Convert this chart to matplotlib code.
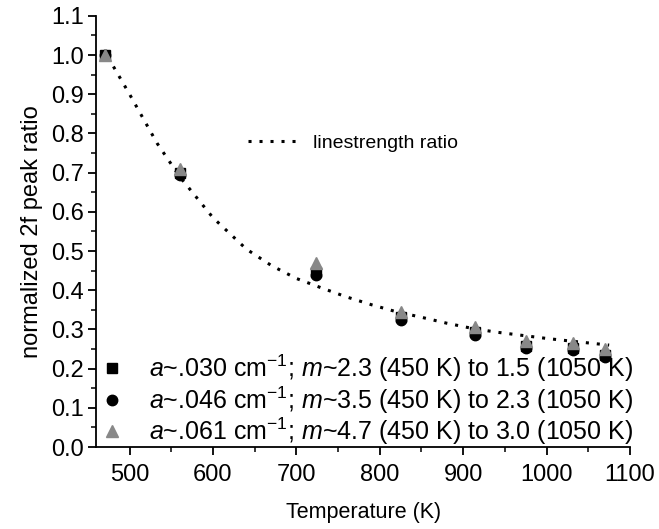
import numpy as np
import matplotlib
matplotlib.use("Agg")
import matplotlib.pyplot as plt

plt.rcParams['font.family'] = ['Liberation Sans', 'DejaVu Sans']
plt.rcParams['mathtext.fontset'] = 'custom'
plt.rcParams['mathtext.rm'] = 'Liberation Sans'
plt.rcParams['mathtext.it'] = 'Liberation Sans:italic'

# measured temperatures (K) and normalized peak ratios
temps = [471, 560, 723, 826, 914, 975, 1032, 1070]
ratio_a030 = [1.00, 0.700, 0.447, 0.332, 0.293, 0.258, 0.253, 0.235]
ratio_a046 = [1.00, 0.695, 0.440, 0.324, 0.286, 0.253, 0.247, 0.230]
ratio_a061 = [1.00, 0.710, 0.469, 0.344, 0.307, 0.271, 0.266, 0.250]

# linestrength ratio curve
line_t = [474, 500, 533, 560, 600, 640, 670, 700, 730, 760, 790, 820, 850, 880,
          910, 940, 970, 1000, 1030, 1075]
line_r = [0.995, 0.90, 0.775, 0.69, 0.585, 0.505, 0.463, 0.430, 0.406, 0.383,
          0.363, 0.345, 0.331, 0.316, 0.303, 0.293, 0.285, 0.277, 0.270, 0.260]

labels = [r"$a$~.030 cm$^{-1}$; $m$~2.3 (450 K) to 1.5 (1050 K)",
          r"$a$~.046 cm$^{-1}$; $m$~3.5 (450 K) to 2.3 (1050 K)",
          r"$a$~.061 cm$^{-1}$; $m$~4.7 (450 K) to 3.0 (1050 K)"]

fig = plt.figure(figsize=(6.59, 5.29), dpi=100)
ax = fig.add_axes([0.146, 0.155, 0.810, 0.815])

ln, = ax.plot(line_t, line_r, color='black', linestyle=(0, (1, 2.6)), linewidth=2.2)
s1, = ax.plot(temps, ratio_a030, 's', color='black', markersize=6.5, linestyle='none')
s2, = ax.plot(temps, ratio_a046, 'o', color='black', markersize=7.5, linestyle='none')
s3, = ax.plot(temps, ratio_a061, '^', color='#888888', markersize=8, linestyle='none')

ax.set_xlim(460, 1100)
ax.set_ylim(0.0, 1.1)
ax.set_xticks(np.arange(500, 1101, 100))
ax.set_xticks(np.arange(500, 1101, 50), minor=True)
ax.set_yticks(np.arange(0, 1.101, 0.1))
ax.set_yticks(np.arange(0, 1.101, 0.05), minor=True)
ax.yaxis.set_major_formatter(matplotlib.ticker.FormatStrFormatter('%.1f'))

for side in ['top', 'right']:
    ax.spines[side].set_visible(False)
for side in ['left', 'bottom']:
    ax.spines[side].set_linewidth(1.3)
ax.tick_params(which='major', direction='out', length=6, width=1.3, labelsize=17, pad=3)
ax.tick_params(axis='x', which='major', pad=6)
ax.tick_params(which='minor', direction='out', length=3.5, width=1.1)

ax.set_xlabel("Temperature (K)", fontsize=15.5, labelpad=12)
ax.set_ylabel("normalized 2f peak ratio", fontsize=17, labelpad=6)

leg1 = ax.legend([ln], ["linestrength ratio"], loc='center left',
                 bbox_to_anchor=(0.285, 0.705), frameon=False, fontsize=14,
                 handlelength=2.7, handletextpad=0.6, borderpad=0, borderaxespad=0)
ax.add_artist(leg1)
ax.legend([s1, s2, s3], labels, loc='lower left', bbox_to_anchor=(0.0075, 0.0),
          frameon=False, fontsize=18, handlelength=0.95, handletextpad=1.0,
          labelspacing=0.0, borderpad=0, borderaxespad=0)

plt.savefig("out.png", dpi=100)
